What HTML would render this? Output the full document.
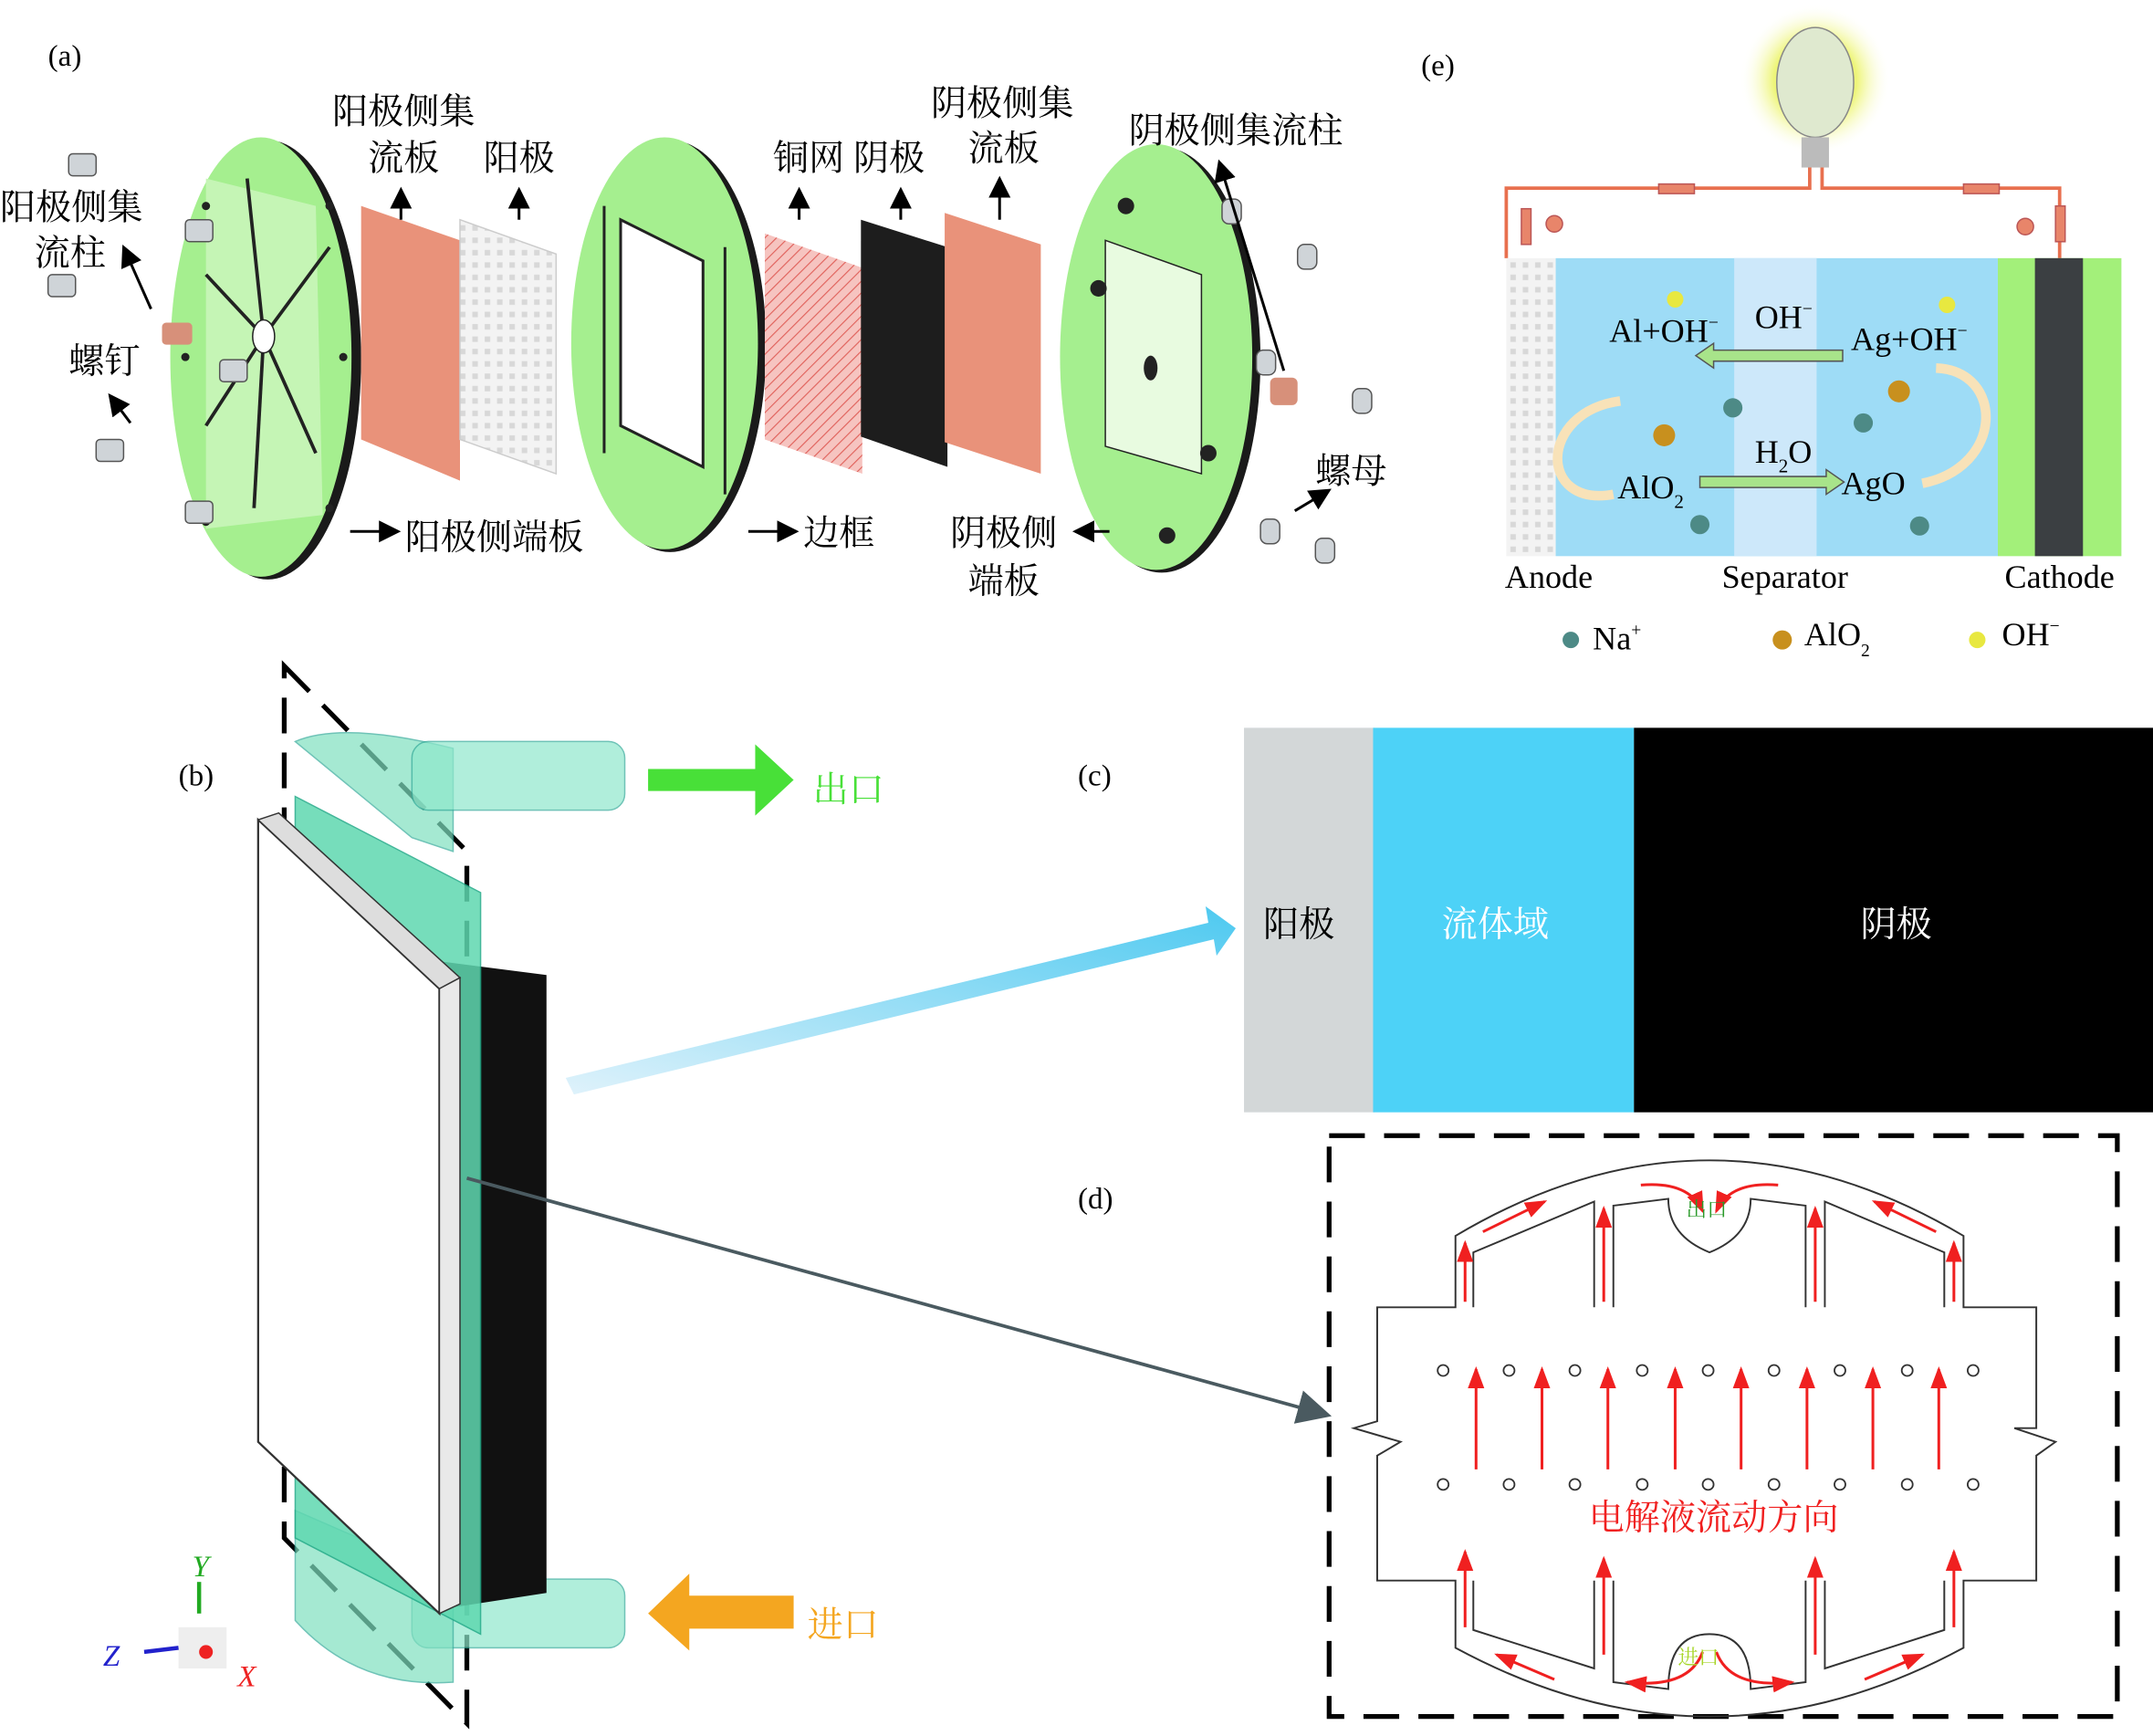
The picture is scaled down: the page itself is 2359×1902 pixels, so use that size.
<!DOCTYPE html>
<html><head><meta charset="utf-8"><style>
html,body{margin:0;padding:0;background:#fff}
svg{display:block}
text{font-family:"Liberation Serif","Noto Serif CJK SC",serif}
.cj{font-family:"Liberation Serif","Noto Serif CJK SC","Noto Sans CJK SC",serif}
</style></head><body>
<svg width="2359" height="1902" viewBox="0 0 1568 1264.2" preserveAspectRatio="none" xmlns="http://www.w3.org/2000/svg">
<defs>
<pattern id="hatch" width="6" height="6" patternUnits="userSpaceOnUse" patternTransform="rotate(45)"><rect width="6" height="6" fill="#f6c4c0"/><line x1="0" y1="0" x2="0" y2="6" stroke="#e0605a" stroke-width="1.5"/></pattern>
<pattern id="dots" width="9" height="9" patternUnits="userSpaceOnUse"><rect width="9" height="9" fill="#f3f3f3"/><rect x="2" y="2" width="4" height="4" fill="#d8d8d8"/></pattern>
<linearGradient id="bluefade" x1="0" y1="1" x2="1" y2="0"><stop offset="0" stop-color="#dff2fb"/><stop offset="1" stop-color="#4dc9f0"/></linearGradient>
<radialGradient id="glow"><stop offset="0.55" stop-color="#eef57a"/><stop offset="1" stop-color="#fff" stop-opacity="0"/></radialGradient>
<marker id="ar" markerWidth="8" markerHeight="8" refX="7" refY="4" orient="auto"><path d="M0,0 L8,4 L0,8z" fill="#000"/></marker>
<marker id="rr" markerWidth="8" markerHeight="8" refX="7" refY="4" orient="auto"><path d="M0,1 L8,4 L0,7z" fill="#f02020"/></marker>
<marker id="gr" markerWidth="10" markerHeight="10" refX="8" refY="5" orient="auto"><path d="M0,0 L10,5 L0,10z" fill="#4a5a60"/></marker>
</defs>

<!-- (a) -->
<text x="35" y="48" font-size="22">(a)</text>
<ellipse cx="195" cy="262" rx="68" ry="160" fill="#1a1a1a"/>
<ellipse cx="190" cy="260" rx="66" ry="160" fill="#a5ef8f"/>
<path d="M150,130 L230,150 L235,375 L150,385z" fill="#c5f5b5"/>
<g stroke="#222" stroke-width="2.5">
<line x1="192" y1="245" x2="180" y2="130"/><line x1="192" y1="245" x2="240" y2="180"/><line x1="192" y1="245" x2="150" y2="310"/><line x1="192" y1="245" x2="150" y2="200"/><line x1="192" y1="245" x2="230" y2="330"/><line x1="192" y1="245" x2="185" y2="370"/></g>
<ellipse cx="192" cy="245" rx="8" ry="12" fill="#fff" stroke="#222"/>
<g fill="#222"><circle cx="150" cy="150" r="3"/><circle cx="240" cy="150" r="3"/><circle cx="150" cy="380" r="3"/><circle cx="240" cy="370" r="3"/><circle cx="135" cy="260" r="3"/><circle cx="250" cy="260" r="3"/></g>
<rect x="118" y="235" width="22" height="16" rx="3" fill="#d7907a"/>
<path d="M263,150 L335,175 L335,350 L263,320z" fill="#e9927a"/>
<path d="M335,160 L405,185 L405,345 L335,320z" fill="url(#dots)" stroke="#ccc"/>
<ellipse cx="488" cy="252" rx="70" ry="150" fill="#1a1a1a"/>
<ellipse cx="484" cy="250" rx="68" ry="150" fill="#a5ef8f"/>
<path d="M452,160 L512,190 L512,340 L452,310z" fill="#fff" stroke="#222" stroke-width="2"/>
<g stroke="#222" stroke-width="2"><line x1="440" y1="150" x2="440" y2="330"/><line x1="528" y1="180" x2="528" y2="360"/></g>
<path d="M557,170 L628,195 L628,345 L557,320z" fill="url(#hatch)"/>
<path d="M627,160 L690,180 L690,340 L627,318z" fill="#1d1d1d"/>
<path d="M688,155 L758,178 L758,345 L688,322z" fill="#e9927a"/>
<ellipse cx="846" cy="262" rx="72" ry="155" fill="#1a1a1a"/>
<ellipse cx="842" cy="260" rx="70" ry="155" fill="#a5ef8f"/>
<path d="M805,175 L875,200 L875,345 L805,325z" fill="#e8fbe0" stroke="#222"/>
<ellipse cx="838" cy="268" rx="5" ry="9" fill="#222"/>
<g fill="#222"><circle cx="820" cy="150" r="6"/><circle cx="800" cy="210" r="6"/><circle cx="880" cy="330" r="6"/><circle cx="850" cy="390" r="6"/></g>
<rect x="925" y="275" width="20" height="20" rx="4" fill="#d7907a"/>
<g fill="#cfd4d8" stroke="#555">
<rect x="50" y="112" width="20" height="16" rx="3"/><rect x="35" y="200" width="20" height="16" rx="3"/><rect x="70" y="320" width="20" height="16" rx="3"/><rect x="135" y="365" width="20" height="16" rx="3"/><rect x="135" y="160" width="20" height="16" rx="3"/><rect x="160" y="262" width="20" height="16" rx="3"/>
<rect x="890" y="145" width="14" height="18" rx="5"/><rect x="945" y="178" width="14" height="18" rx="5"/><rect x="915" y="255" width="14" height="18" rx="5"/><rect x="985" y="283" width="14" height="18" rx="5"/><rect x="918" y="378" width="14" height="18" rx="5"/><rect x="958" y="392" width="14" height="18" rx="5"/></g>
<g class="cj" font-size="26">
<text x="242" y="90">阳极侧集</text><text x="268" y="124">流板</text><text x="352" y="124">阳极</text>
<text x="0" y="160">阳极侧集</text><text x="25" y="193">流柱</text><text x="50" y="272">螺钉</text>
<text x="563" y="124">铜网 阴极</text><text x="678" y="84">阴极侧集</text><text x="705" y="117">流板</text>
<text x="822" y="104">阴极侧集流柱</text><text x="958" y="352">螺母</text>
<text x="295" y="400">阳极侧端板</text><text x="585" y="397">边框</text>
<text x="692" y="397">阴极侧</text><text x="705" y="432">端板</text></g>
<g stroke="#000" stroke-width="2" marker-end="url(#ar)" fill="none">
<line x1="292" y1="160" x2="292" y2="138"/><line x1="378" y1="160" x2="378" y2="138"/><line x1="582" y1="160" x2="582" y2="138"/><line x1="656" y1="160" x2="656" y2="138"/><line x1="728" y1="160" x2="728" y2="130"/>
<line x1="110" y1="225" x2="90" y2="180"/><line x1="95" y1="308" x2="80" y2="288"/>
<line x1="255" y1="387" x2="290" y2="387"/><line x1="545" y1="387" x2="580" y2="387"/><line x1="808" y1="387" x2="783" y2="387"/>
<line x1="935" y1="270" x2="888" y2="118"/><line x1="943" y1="372" x2="968" y2="357"/></g>

<!-- (e) -->
<text x="1035" y="55" font-size="22">(e)</text>
<circle cx="1322" cy="58" r="55" fill="url(#glow)"/>
<ellipse cx="1322" cy="60" rx="28" ry="40" fill="#dfe9cf" stroke="#888"/>
<rect x="1312" y="100" width="20" height="22" fill="#bbb"/>
<path d="M1097,188 V137 H1318 V122 M1327,122 V137 H1500 V188" fill="none" stroke="#e8704f" stroke-width="2.5"/>
<g fill="#e8856a" stroke="#b55"><rect x="1208" y="134" width="26" height="7"/><rect x="1430" y="134" width="26" height="7"/><rect x="1108" y="152" width="7" height="26"/><rect x="1497" y="150" width="7" height="26"/>
<circle cx="1132" cy="163" r="6"/><circle cx="1475" cy="165" r="6"/></g>
<rect x="1097" y="188" width="36" height="217" fill="url(#dots)"/>
<rect x="1133" y="188" width="322" height="217" fill="#9edcf6"/>
<rect x="1263" y="188" width="60" height="217" fill="#cde8fa"/>
<rect x="1455" y="188" width="90" height="217" fill="#a3f07a"/>
<rect x="1482" y="188" width="35" height="217" fill="#3b3f42"/>
<path d="M1180,292 C1120,300 1120,370 1175,360" fill="none" stroke="#f8e2b8" stroke-width="7"/>
<path d="M1400,352 C1460,340 1460,270 1410,268" fill="none" stroke="#f8e2b8" stroke-width="7"/>
<path d="M1342,255 H1248 V250 L1235,259 L1248,268 V263 H1342z" fill="#a8e48a" stroke="#555"/>
<path d="M1238,347 H1330 V342 L1343,351 L1330,360 V355 H1238z" fill="#a8e48a" stroke="#555"/>
<g font-size="24"><text x="1172" y="249">Al+OH<tspan font-size="13" dy="-10">−</tspan></text>
<text x="1278" y="239">OH<tspan font-size="13" dy="-10">−</tspan></text>
<text x="1348" y="255">Ag+OH<tspan font-size="13" dy="-10">−</tspan></text>
<text x="1278" y="337">H<tspan font-size="14" dy="7">2</tspan><tspan dy="-7">O</tspan></text>
<text x="1178" y="363">AlO<tspan font-size="14" dy="7">2</tspan></text>
<text x="1341" y="360">AgO</text>
<text x="1096" y="428">Anode</text><text x="1254" y="428">Separator</text><text x="1460" y="428">Cathode</text>
<text x="1160" y="473">Na<tspan font-size="13" dy="-10">+</tspan></text>
<text x="1314" y="470">AlO<tspan font-size="13" dy="8">2</tspan></text>
<text x="1458" y="470">OH<tspan font-size="13" dy="-10">−</tspan></text></g>
<g fill="#4d8a86"><circle cx="1262" cy="297" r="7"/><circle cx="1357" cy="308" r="7"/><circle cx="1238" cy="382" r="7"/><circle cx="1398" cy="383" r="7"/><circle cx="1144" cy="466" r="6"/></g>
<g fill="#c8901e"><circle cx="1212" cy="317" r="8"/><circle cx="1383" cy="285" r="8"/><circle cx="1298" cy="466" r="7"/></g>
<g fill="#e8e840"><circle cx="1220" cy="218" r="6"/><circle cx="1418" cy="222" r="6"/><circle cx="1440" cy="466" r="6"/></g>

<!-- (b) -->
<text x="130" y="572" font-size="22">(b)</text>
<path d="M207,485 L340,620 L340,1255 L207,1120z" fill="none" stroke="#000" stroke-width="3.5" stroke-dasharray="26,14"/>
<path d="M215,540 Q250,525 330,545 L330,620 L300,610 Z" fill="#7fe0c0" opacity="0.7" stroke="#3a9"/>
<rect x="300" y="540" width="155" height="50" rx="12" fill="#8fe8cc" opacity="0.7" stroke="#3a9"/>
<rect x="300" y="1150" width="155" height="50" rx="12" fill="#8fe8cc" opacity="0.7" stroke="#3a9"/>
<path d="M215,1100 L330,1150 L330,1225 Q260,1230 215,1180z" fill="#7fe0c0" opacity="0.7" stroke="#3a9"/>
<path d="M320,700 L398,710 L398,1160 L320,1172z" fill="#111"/>
<path d="M215,580 L350,650 L350,1190 L215,1120z" fill="#5fd8b0" opacity="0.85" stroke="#2a8"/>
<path d="M188,597 L320,720 L320,1175 L188,1050z" fill="#fff" stroke="#333" stroke-width="1.5"/>
<path d="M188,597 L203,592 L335,712 L320,720z" fill="#ddd" stroke="#333"/>
<path d="M320,720 L335,712 L335,1168 L320,1175z" fill="#e9e9e9" stroke="#333"/>
<path d="M472,560 H550 V542 L578,568 L550,594 V576 H472z" fill="#48e038"/>
<text class="cj" x="592" y="584" font-size="26" fill="#48e038">出口</text>
<path d="M578,1162 H502 V1146 L472,1175 L502,1202 V1186 H578z" fill="#f4a620"/>
<text class="cj" x="588" y="1192" font-size="26" fill="#f4a620">进口</text>
<path d="M412,785 L880,672 L878,660 L900,676 L886,696 L884,684 L418,797z" fill="url(#bluefade)"/>
<line x1="340" y1="858" x2="965" y2="1030" stroke="#4a5a60" stroke-width="2.5" marker-end="url(#gr)"/>
<rect x="130" y="1185" width="35" height="30" fill="#eee"/>
<line x1="145" y1="1175" x2="145" y2="1152" stroke="#2a2" stroke-width="3"/>
<line x1="130" y1="1200" x2="105" y2="1203" stroke="#22c" stroke-width="3"/>
<circle cx="150" cy="1203" r="5" fill="#e22"/>
<text x="140" y="1148" font-size="22" font-style="italic" fill="#2a2">Y</text>
<text x="75" y="1213" font-size="22" font-style="italic" fill="#22c">Z</text>
<text x="173" y="1228" font-size="22" font-style="italic" fill="#e22">X</text>

<!-- (c) -->
<text x="785" y="572" font-size="22">(c)</text>
<rect x="906" y="530" width="95" height="280" fill="#d3d7d8"/>
<rect x="1000" y="530" width="190" height="280" fill="#4dd2f7"/>
<rect x="1190" y="530" width="378" height="280" fill="#000"/>
<g class="cj" font-size="26"><text x="920" y="682">阳极</text><text x="1050" y="682" fill="#fff">流体域</text><text x="1355" y="682" fill="#fff">阴极</text></g>

<!-- (d) -->
<text x="785" y="880" font-size="22">(d)</text>
<rect x="968" y="827" width="574" height="423" fill="none" stroke="#000" stroke-width="3.5" stroke-dasharray="26,14"/>
<g fill="none" stroke="#333" stroke-width="1.3">
<path d="M1003,952 H1060 V900 Q1245,790 1430,900 V952 H1483 V1040 L1467,1040 L1497,1050 L1483,1060 V1151 H1430 V1200 Q1245,1300 1060,1200 V1151 H1003 V1060 L1020,1050 L986,1040 L1003,1035z"/>
<path d="M1073,952 V912 L1161,875 V952 M1175,952 V878 L1215,873 Q1215,900 1245,912 Q1275,900 1275,873 L1315,878 V952 M1329,952 V875 L1416,912 V952"/>
<path d="M1073,1151 V1187 L1161,1215 V1151 M1175,1151 V1225 L1215,1230 Q1215,1190 1245,1190 Q1275,1190 1275,1230 L1315,1225 V1151 M1329,1151 V1215 L1416,1187 V1151"/>
</g>
<g fill="none" stroke="#333" stroke-width="1.2">
<circle cx="1051" cy="998" r="4"/><circle cx="1099" cy="998" r="4"/><circle cx="1147" cy="998" r="4"/><circle cx="1196" cy="998" r="4"/><circle cx="1244" cy="998" r="4"/><circle cx="1292" cy="998" r="4"/><circle cx="1340" cy="998" r="4"/><circle cx="1389" cy="998" r="4"/><circle cx="1437" cy="998" r="4"/>
<circle cx="1051" cy="1081" r="4"/><circle cx="1099" cy="1081" r="4"/><circle cx="1147" cy="1081" r="4"/><circle cx="1196" cy="1081" r="4"/><circle cx="1244" cy="1081" r="4"/><circle cx="1292" cy="1081" r="4"/><circle cx="1340" cy="1081" r="4"/><circle cx="1389" cy="1081" r="4"/><circle cx="1437" cy="1081" r="4"/></g>
<g stroke="#f02020" stroke-width="2" marker-end="url(#rr)" fill="none">
<line x1="1075" y1="1070" x2="1075" y2="997"/><line x1="1123" y1="1070" x2="1123" y2="997"/><line x1="1171" y1="1070" x2="1171" y2="997"/><line x1="1220" y1="1070" x2="1220" y2="997"/><line x1="1268" y1="1070" x2="1268" y2="997"/><line x1="1316" y1="1070" x2="1316" y2="997"/><line x1="1364" y1="1070" x2="1364" y2="997"/><line x1="1412" y1="1070" x2="1412" y2="997"/>
<line x1="1067" y1="948" x2="1067" y2="905"/><line x1="1168" y1="948" x2="1168" y2="880"/><line x1="1322" y1="948" x2="1322" y2="880"/><line x1="1423" y1="948" x2="1423" y2="905"/>
<line x1="1067" y1="1185" x2="1067" y2="1130"/><line x1="1168" y1="1205" x2="1168" y2="1135"/><line x1="1322" y1="1205" x2="1322" y2="1135"/><line x1="1423" y1="1185" x2="1423" y2="1130"/>
<line x1="1080" y1="897" x2="1125" y2="875"/><line x1="1410" y1="897" x2="1365" y2="875"/>
<path d="M1195,863 Q1230,860 1240,882"/><path d="M1295,863 Q1260,860 1250,882"/>
<line x1="1132" y1="1223" x2="1090" y2="1205"/><line x1="1358" y1="1223" x2="1400" y2="1205"/>
<path d="M1240,1203 Q1230,1230 1185,1225"/><path d="M1250,1203 Q1260,1230 1305,1225"/></g>
<text class="cj" x="1228" y="886" font-size="15" fill="#2a9a2a">出口</text>
<text class="cj" x="1222" y="1212" font-size="15" fill="#a8d62a">进口</text>
<text class="cj" x="1157" y="1114" font-size="26" fill="#f02020">电解液流动方向</text>
</svg>
</body></html>
